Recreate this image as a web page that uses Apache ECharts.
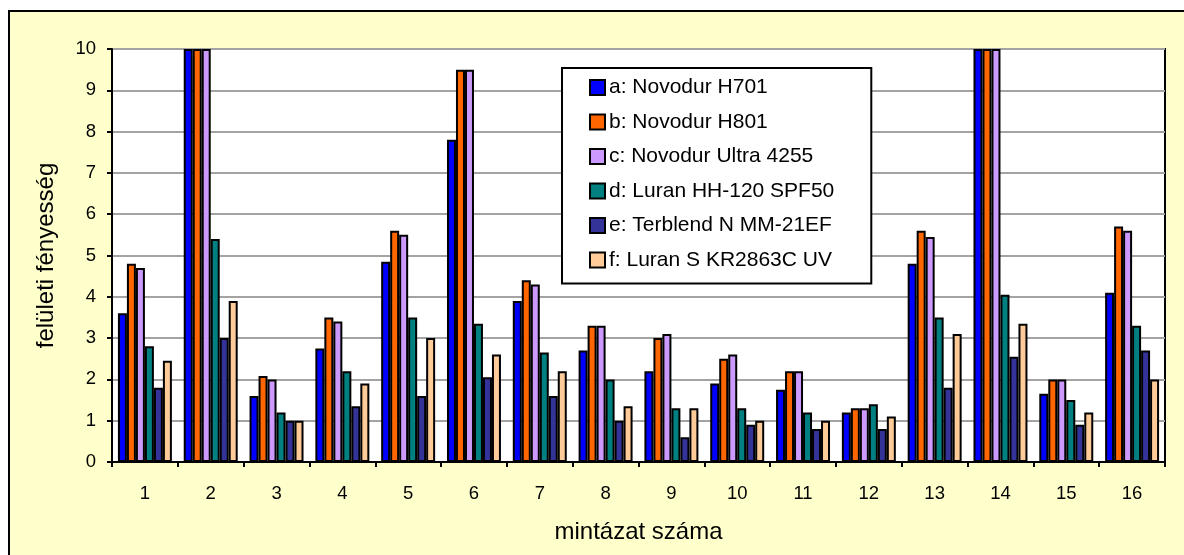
<!DOCTYPE html>
<html>
<head>
<meta charset="utf-8">
<script src="https://cdn.jsdelivr.net/npm/echarts@6/dist/echarts.min.js"></script>
<style>
  html, body { margin: 0; padding: 0; background: #fff; }
  #chart { width: 1184px; height: 555px; }
</style>
</head>
<body>
<div id="chart"></div>
<script>
// adatok
var categories = ['1', '2', '3', '4', '5', '6', '7', '8', '9', '10', '11', '12', '13', '14', '15', '16'];
var seriesNames = ['a: Novodur H701', 'b: Novodur H801', 'c: Novodur Ultra 4255',
  'd: Luran HH-120 SPF50', 'e: Terblend N MM-21EF', 'f: Luran S KR2863C UV'];
var seriesColors = ['#0000FF', '#FF6600', '#CC99FF', '#008080', '#333399', '#FFCC99'];

var aValues = [3.6, 10, 1.6, 2.75, 4.85, 7.8, 3.9, 2.7, 2.2, 1.9, 1.75, 1.2, 4.8, 10, 1.65, 4.1];
var bValues = [4.8, 10, 2.08, 3.5, 5.6, 9.5, 4.4, 3.3, 3.0, 2.5, 2.2, 1.3, 5.6, 10, 2.0, 5.7];
var cValues = [4.7, 10, 2.0, 3.4, 5.5, 9.5, 4.3, 3.3, 3.1, 2.6, 2.2, 1.3, 5.45, 10, 2.0, 5.6];
var dValues = [2.8, 5.4, 1.2, 2.2, 3.5, 3.35, 2.65, 2.0, 1.3, 1.3, 1.2, 1.4, 3.5, 4.05, 1.5, 3.3];
var eValues = [1.8, 3.0, 1.0, 1.35, 1.6, 2.05, 1.6, 1.0, 0.6, 0.9, 0.8, 0.8, 1.8, 2.55, 0.9, 2.7];
var fValues = [2.45, 3.9, 1.0, 1.9, 3.0, 2.6, 2.2, 1.35, 1.3, 1.0, 1.0, 1.1, 3.1, 3.35, 1.2, 2.0];
var allValues = [aValues, bValues, cValues, dValues, eValues, fValues];

var yTicks = [0, 1, 2, 3, 4, 5, 6, 7, 8, 9, 10];

var myChart = echarts.init(document.getElementById('chart'));

var font = 'Liberation Sans, Arial, sans-serif';

var series = seriesNames.map(function (name, i) {
  return {
    name: name,
    type: 'bar',
    barGap: '0%',
    barCategoryGap: '18%',
    itemStyle: {
      color: seriesColors[i],
      borderColor: '#000',
      borderWidth: 2
    },
    data: allValues[i]
  };
});

var option = {
  backgroundColor: '#FFFFCC',
  animation: false,
  // fehér sáv a keret előtt + fekete keret
  graphic: [
    { type: 'rect', shape: { x: 0, y: 0, width: 1184, height: 10 }, style: { fill: '#fff' } },
    { type: 'rect', shape: { x: 0, y: 0, width: 8, height: 555 }, style: { fill: '#fff' } },
    { type: 'line', shape: { x1: 8, y1: 11, x2: 1184, y2: 11 }, style: { stroke: '#000', lineWidth: 2 } },
    { type: 'line', shape: { x1: 9, y1: 10, x2: 9, y2: 555 }, style: { stroke: '#000', lineWidth: 2 } }
  ],
  grid: {
    left: 112,
    top: 49,
    right: 19,
    bottom: 93,
    show: true,
    backgroundColor: '#fff',
    borderColor: '#000',
    borderWidth: 2
  },
  legend: {
    orient: 'vertical',
    left: 562,
    top: 68,
    padding: [9, 37, 13, 27],
    itemWidth: 15,
    itemHeight: 15,
    itemGap: 13.5,
    icon: 'rect',
    backgroundColor: '#fff',
    borderColor: '#000',
    borderWidth: 2,
    textStyle: { fontFamily: font, fontSize: 21, lineHeight: 21, color: '#000', padding: [0, 0, 0, -1] },
    data: seriesNames
  },
  xAxis: {
    type: 'category',
    data: categories,
    name: 'mintázat száma',
    nameLocation: 'middle',
    nameGap: 58,
    nameTextStyle: { fontFamily: font, fontSize: 24, color: '#000' },
    axisLine: { lineStyle: { color: '#000', width: 2 } },
    axisTick: { show: true, length: 5, lineStyle: { color: '#000', width: 2 } },
    axisLabel: { fontFamily: font, fontSize: 18.5, color: '#000', margin: 22 },
    splitLine: { show: false }
  },
  yAxis: {
    type: 'value',
    min: yTicks[0],
    max: yTicks[yTicks.length - 1],
    interval: 1,
    name: 'felületi fényesség',
    nameLocation: 'middle',
    nameRotate: 90,
    nameGap: 54,
    nameTextStyle: { fontFamily: font, fontSize: 24, color: '#000' },
    axisLine: { show: true, lineStyle: { color: '#000', width: 2 } },
    axisTick: { show: true, length: 5, lineStyle: { color: '#000', width: 2 } },
    axisLabel: { fontFamily: font, fontSize: 18.5, color: '#000', margin: 16 },
    splitLine: { show: true, lineStyle: { color: '#a3a3a3', width: 2 } }
  },
  series: series
};

myChart.setOption(option);
window.addEventListener('resize', function () {
  myChart.resize();
});
</script>
</body>
</html>
